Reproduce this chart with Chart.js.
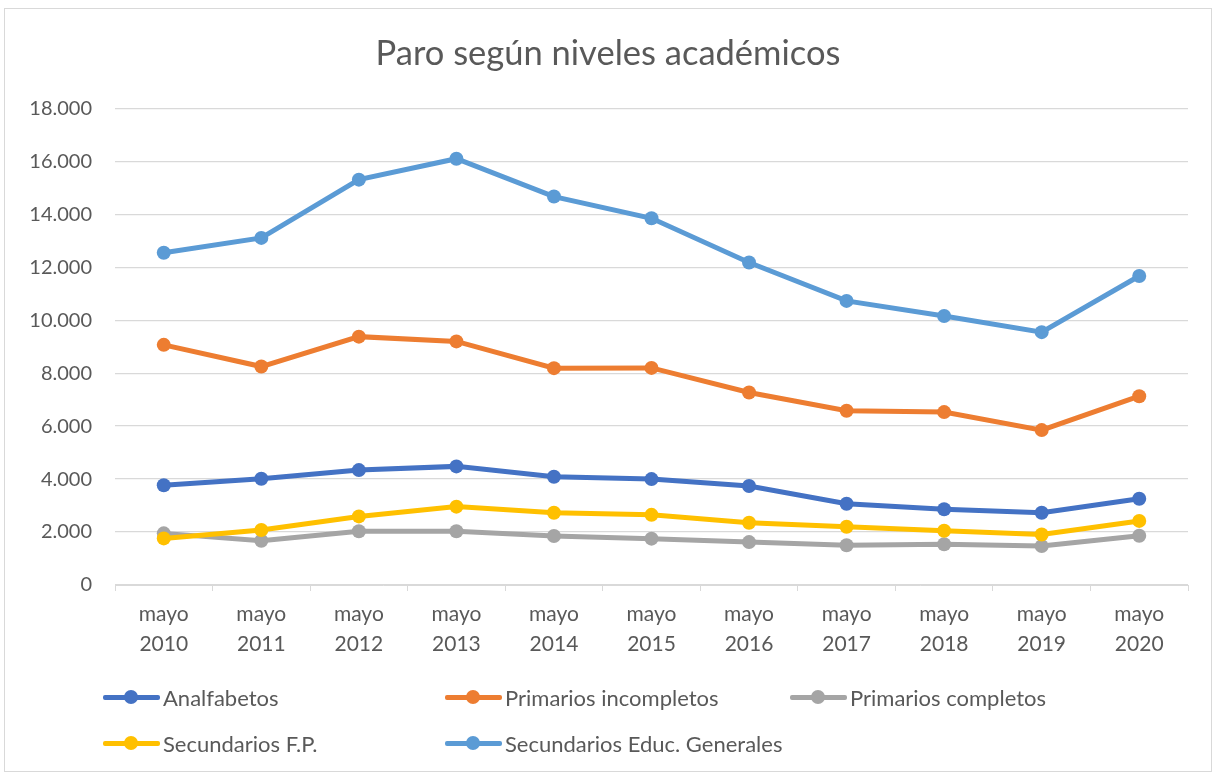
<!DOCTYPE html>
<html>
<head>
<meta charset="utf-8">
<script src="https://cdn.jsdelivr.net/npm/chart.js@4"></script>
<style>
  body { margin: 0; background: #fff; font-family: Lato, "Noto Sans", sans-serif; }
  #wrap { position: relative; width: 1217px; height: 774px; }
  #frame { position: absolute; left: 4px; top: 8px; width: 1208px; height: 764px; border: 1px solid #d9d9d9; box-sizing: border-box; }
  #chart { position: absolute; left: 0; top: 0; }
  .lg { position: absolute; height: 24px; display: flex; align-items: center; color: #595959; font-size: 22px; white-space: nowrap; }
  .lg .mk { position: relative; width: 57px; height: 24px; margin-right: 3px; }
  .lg .ln { position: absolute; left: 0; top: 9.5px; width: 57px; height: 5px; border-radius: 2px; }
  .lg .dt { position: absolute; left: 21px; top: 5px; width: 14px; height: 14px; border-radius: 50%; }
</style>
</head>
<body>
<div id="wrap">
  <div id="frame"></div>
  <canvas id="chart" width="1217" height="774"></canvas>
  <div id="legend"></div>
</div>
<script>
// categorias (eje X)
const years = ['2010', '2011', '2012', '2013', '2014', '2015', '2016', '2017', '2018', '2019', '2020'];
const labels = years.map(y => ['mayo', y]);

// series
const analfabetos = [3770, 4010, 4340, 4480, 4090, 4000, 3740, 3070, 2860, 2730, 3260];
const primariosIncompletos = [9070, 8250, 9380, 9200, 8190, 8200, 7270, 6580, 6530, 5850, 7130];
const primariosCompletos = [1950, 1670, 2030, 2030, 1850, 1750, 1620, 1500, 1540, 1470, 1860];
const secundariosFP = [1760, 2080, 2590, 2960, 2730, 2650, 2350, 2200, 2050, 1910, 2420];
const secundariosGenerales = [12550, 13110, 15310, 16100, 14670, 13850, 12180, 10730, 10160, 9550, 11670];

const seriesNames = ['Analfabetos', 'Primarios incompletos', 'Primarios completos', 'Secundarios F.P.', 'Secundarios Educ. Generales'];
const seriesData = [analfabetos, primariosIncompletos, primariosCompletos, secundariosFP, secundariosGenerales];
const seriesColors = ['#4472C4', '#ED7D31', '#A5A5A5', '#FFC000', '#5B9BD5'];

// eje Y
const yMin = 0;
const yMax = 18000;
const yStep = 2000;

function fmtMiles(v) {
    return String(v).replace(/\B(?=(\d{3})+(?!\d))/g, '.');
}

const datasets = seriesNames.map((name, i) => ({
    label: name,
    data: seriesData[i],
    borderColor: seriesColors[i],
    backgroundColor: seriesColors[i],
    pointBackgroundColor: seriesColors[i],
    pointBorderWidth: 0,
    pointRadius: 7,
    borderWidth: 5,
    tension: 0,
    fill: false,
    order: seriesNames.length - i, // las últimas series quedan encima, como en Excel
}));

const padLeft = 28;

const chart = new Chart(document.getElementById('chart'), {
    type: 'line',
    data: { labels, datasets },
    options: {
        responsive: false,
        animation: false,
        layout: { padding: { left: padLeft, right: 29, top: 0, bottom: 0 } },
        plugins: {
            legend: { display: false },
            tooltip: { enabled: false },
            title: {
                display: true,
                text: 'Paro según niveles académicos',
                color: '#595959',
                font: { family: 'Lato', size: 34.5, weight: 'normal', lineHeight: 1.2 },
                padding: { top: 33, bottom: 34 },
            },
        },
        scales: {
            x: {
                offset: true,
                grid: { offset: true, drawOnChartArea: false, drawTicks: true, tickLength: 6, color: '#d9d9d9' },
                border: { color: '#d9d9d9', width: 1 },
                ticks: {
                    color: '#595959',
                    font: { family: 'Lato', size: 21, lineHeight: 1.45 },
                    padding: 8,
                    maxRotation: 0,
                    autoSkip: false,
                },
                afterFit: scale => { scale.height = 774 - 585; },
            },
            y: {
                min: yMin,
                max: yMax,
                grid: { color: '#d9d9d9', lineWidth: 1.3, drawTicks: false },
                border: { display: false },
                ticks: {
                    stepSize: yStep,
                    color: '#595959',
                    font: { family: 'Lato', size: 20 },
                    padding: 23,
                    callback: v => fmtMiles(v),
                },
                afterFit: scale => { scale.width = 115 - padLeft; },
            },
        },
    },
});

// leyenda en HTML, construida desde los datasets del gráfico
const legendLeft = [103, 445, 790];
const legendTop = [697, 743];
const legendBox = document.getElementById('legend');
chart.data.datasets.forEach((ds, i) => {
    const item = document.createElement('div');
    item.className = 'lg';
    item.style.left = legendLeft[i % 3] + 'px';
    item.style.top = (legendTop[Math.floor(i / 3)] - 12) + 'px';
    item.innerHTML = '<span class="mk"><span class="ln"></span><span class="dt"></span></span>';
    item.querySelector('.ln').style.background = ds.borderColor;
    item.querySelector('.dt').style.background = ds.borderColor;
    item.appendChild(document.createTextNode(ds.label));
    legendBox.appendChild(item);
});
</script>
</body>
</html>
